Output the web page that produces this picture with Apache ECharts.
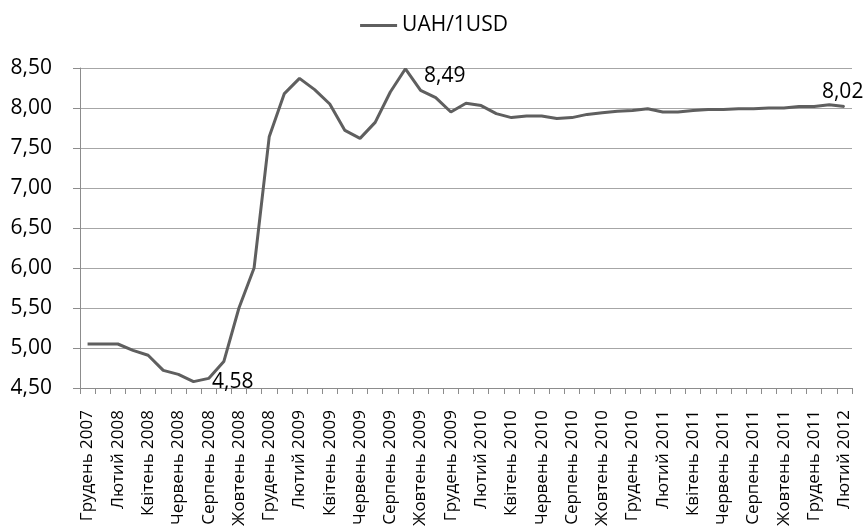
<!DOCTYPE html>
<html>
<head>
<meta charset="utf-8">
<script src="https://cdn.jsdelivr.net/npm/echarts@6/dist/echarts.min.js"></script>
<style>
  html, body { margin: 0; padding: 0; background: #fff; }
  #chart { width: 868px; height: 531px; }
</style>
</head>
<body>
<div id="chart"></div>
<script>
// місяці від грудня 2007 до лютого 2012
var categories = [
    "Грудень 2007",
    "Січень 2008", "Лютий 2008", "Березень 2008", "Квітень 2008", "Травень 2008", "Червень 2008",
    "Липень 2008", "Серпень 2008", "Вересень 2008", "Жовтень 2008", "Листопад 2008", "Грудень 2008",
    "Січень 2009", "Лютий 2009", "Березень 2009", "Квітень 2009", "Травень 2009", "Червень 2009",
    "Липень 2009", "Серпень 2009", "Вересень 2009", "Жовтень 2009", "Листопад 2009", "Грудень 2009",
    "Січень 2010", "Лютий 2010", "Березень 2010", "Квітень 2010", "Травень 2010", "Червень 2010",
    "Липень 2010", "Серпень 2010", "Вересень 2010", "Жовтень 2010", "Листопад 2010", "Грудень 2010",
    "Січень 2011", "Лютий 2011", "Березень 2011", "Квітень 2011", "Травень 2011", "Червень 2011",
    "Липень 2011", "Серпень 2011", "Вересень 2011", "Жовтень 2011", "Листопад 2011", "Грудень 2011",
    "Січень 2012", "Лютий 2012"
];
var uahUsd = [
    5.05, 5.05, 5.05, 4.97, 4.91, 4.72, 4.67, 4.58, 4.62, 4.83, 5.50, 6.00, 7.64,
    8.18, 8.37, 8.23, 8.05, 7.72, 7.62, 7.82, 8.20, 8.49, 8.22, 8.13, 7.95,
    8.06, 8.03, 7.93, 7.88, 7.90, 7.90, 7.87, 7.88, 7.92, 7.94, 7.96, 7.97,
    7.99, 7.95, 7.95, 7.97, 7.98, 7.98, 7.99, 7.99, 8.00, 8.00, 8.02, 8.02,
    8.04, 8.02
];
// точки з підписами
var labelled = [7, 21, 50];

var font = "'Open Sans', 'Noto Sans', sans-serif";
function fmt(v) { return v.toFixed(2).replace(".", ","); }

function labelFor(i) {
    var l = {
        show: true,
        formatter: function (p) { return fmt(p.value); },
        fontSize: 21,
        color: "#000",
        fontFamily: font
    };
    if (i === 50) {
        // останній підпис трохи над лінією
        l.position = [-22, -24];
    } else {
        l.position = "right";
        l.distance = 18;
        l.offset = i === 21 ? [0, 7] : [0, 0];
    }
    return l;
}

var seriesData = uahUsd.map(function (v, i) {
    if (labelled.indexOf(i) < 0) return v;
    return { value: v, symbol: "circle", symbolSize: 1, label: labelFor(i) };
});

var myChart = echarts.init(document.getElementById('chart'));
var option = {
    backgroundColor: "#fff",
    animation: false,
    legend: {
        data: ["UAH/1USD"],
        top: 10,
        left: "center",
        itemWidth: 37,
        itemHeight: 3,
        itemGap: 4,
        icon: "rect",
        textStyle: { fontSize: 21, color: "#000", fontFamily: font }
    },
    grid: { left: 80, right: 16, top: 68, bottom: 143 },
    xAxis: {
        type: "category",
        data: categories,
        boundaryGap: true,
        axisLine: { lineStyle: { color: "#8c8c8c", width: 1 } },
        axisTick: { show: true, interval: 0, length: 6, lineStyle: { color: "#8c8c8c" } },
        axisLabel: {
            interval: 1,
            rotate: 90,
            margin: 22,
            fontSize: 17,
            color: "#000",
            fontFamily: font
        }
    },
    yAxis: {
        type: "value",
        min: 4.5,
        max: 8.5,
        interval: 0.5,
        axisLine: { show: true, lineStyle: { color: "#8c8c8c" } },
        axisTick: { show: true, length: 7, lineStyle: { color: "#8c8c8c" } },
        splitLine: { lineStyle: { color: "#a6a6a6", width: 1 } },
        axisLabel: {
            formatter: fmt,
            fontSize: 21,
            color: "#000",
            margin: 28,
            fontFamily: font
        }
    },
    series: [{
        name: "UAH/1USD",
        type: "line",
        data: seriesData,
        symbol: "none",
        lineStyle: { color: "#5f5f5f", width: 3 },
        itemStyle: { color: "#5f5f5f" }
    }]
};
myChart.setOption(option);
</script>
</body>
</html>
